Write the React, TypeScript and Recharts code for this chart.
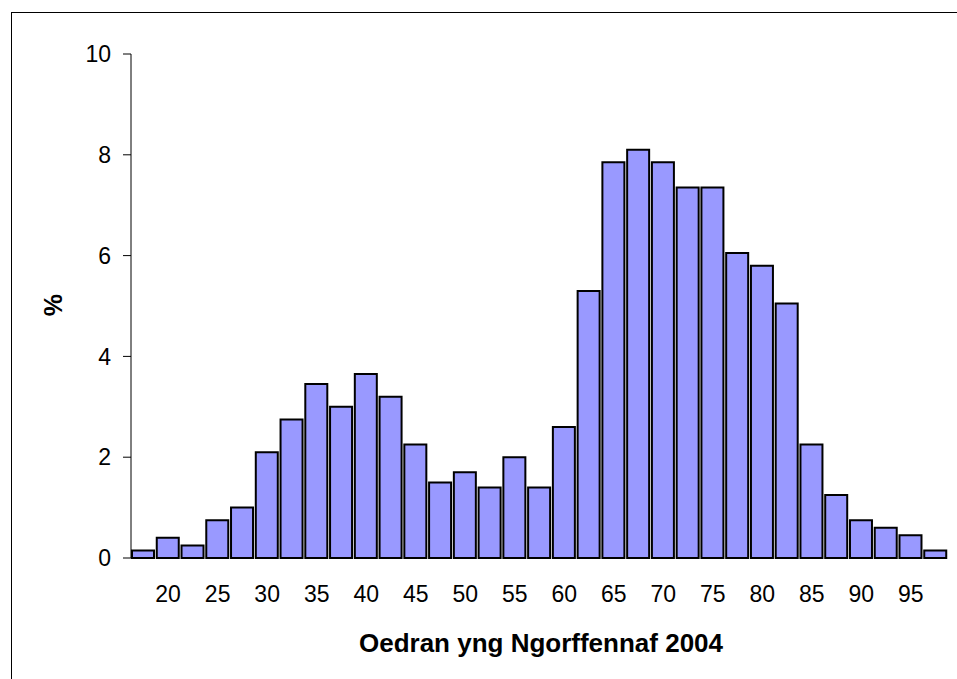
import { BarChart, Bar, XAxis, YAxis, Label } from 'recharts';

// each bar is a 2.5-year age band, labelled at its centre
const ages = [
  17.5, 20, 22.5, 25, 27.5, 30, 32.5, 35, 37.5, 40, 42.5, 45, 47.5, 50, 52.5, 55, 57.5,
  60, 62.5, 65, 67.5, 70, 72.5, 75, 77.5, 80, 82.5, 85, 87.5, 90, 92.5, 95, 97.5,
];
const percents = [
  0.15, 0.4, 0.25, 0.75, 1.0, 2.1, 2.75, 3.45, 3.0, 3.65, 3.2, 2.25, 1.5, 1.7, 1.4, 2.0, 1.4,
  2.6, 5.3, 7.85, 8.1, 7.85, 7.35, 7.35, 6.05, 5.8, 5.05, 2.25, 1.25, 0.75, 0.6, 0.45, 0.15,
];
const yTicks = [0, 2, 4, 6, 8, 10];
const boundaryTicks = ages.map((_, i) => i).concat(ages.length);

const data = ages.map((age, i) => ({ age, pct: percents[i] }));

const FONT = '"Liberation Sans", Arial, sans-serif';

export default function App() {
  return (
    <div style={{ position: 'fixed', left: 0, top: 0, width: 957, height: 679, background: '#fff', fontFamily: FONT }}>
      <div
        style={{
          position: 'absolute',
          left: 11,
          top: 12,
          width: 980,
          height: 720,
          border: '1px solid #000',
          boxSizing: 'border-box',
        }}
      />
      <div style={{ position: 'absolute', left: 0, top: 0 }}>
        <BarChart
          width={957}
          height={679}
          data={data}
          margin={{ top: 54, right: 9, bottom: 61, left: 0 }}
          barCategoryGap={0}
        >
          <XAxis
            xAxisId="grid"
            type="number"
            domain={[0, ages.length]}
            ticks={boundaryTicks}
            allowDataOverflow
            height={0}
            tickSize={8}
            tickFormatter={() => ''}
            axisLine={{ stroke: '#000', strokeWidth: 1 }}
            tickLine={{ stroke: '#000', strokeWidth: 1 }}
          />
          <XAxis
            xAxisId="cat"
            dataKey="age"
            height={60}
            interval={0}
            axisLine={false}
            tickLine={false}
            tickSize={0}
            tickMargin={28}
            tick={{ fill: '#000', fontSize: 23, fontFamily: FONT }}
            tickFormatter={(v: number) => (v % 5 === 0 ? String(v) : '')}
          >
            <Label
              content={() => (
                <text x={541} y={652} textAnchor="middle" fontFamily={FONT} fontSize={26} fontWeight="bold" fill="#000">
                  Oedran yng Ngorffennaf 2004
                </text>
              )}
            />
          </XAxis>
          <YAxis
            width={131}
            domain={[0, 10]}
            ticks={yTicks}
            tickSize={8}
            tickMargin={12}
            axisLine={{ stroke: '#000', strokeWidth: 1 }}
            tickLine={{ stroke: '#000', strokeWidth: 1 }}
            tick={{ fill: '#000', fontSize: 23, fontFamily: FONT }}
          >
            <Label
              content={() => (
                <text
                  x={53}
                  y={305}
                  textAnchor="middle"
                  dominantBaseline="central"
                  transform="rotate(-90 53 305)"
                  fontFamily={FONT}
                  fontSize={25}
                  fontWeight="bold"
                  fill="#000"
                >
                  %
                </text>
              )}
            />
          </YAxis>
          <Bar
            xAxisId="cat"
            dataKey="pct"
            fill="#9999FF"
            stroke="#000"
            strokeWidth={2}
            barSize={22}
            isAnimationActive={false}
          />
        </BarChart>
      </div>
    </div>
  );
}
